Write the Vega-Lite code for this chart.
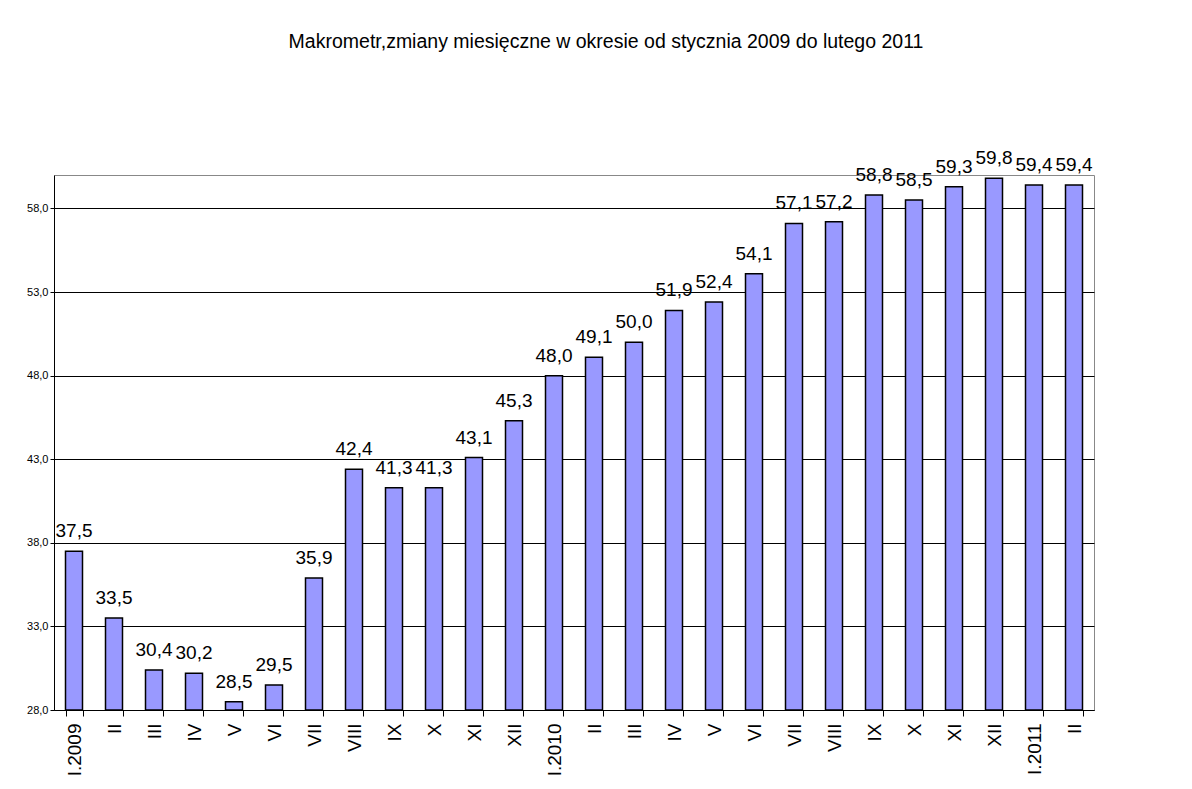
{
  "$schema": "https://vega.github.io/schema/vega-lite/v6.json",
  "width": 1040,
  "height": 535,
  "autosize": "none",
  "padding": {"left": 54, "top": 175, "right": 98, "bottom": 79},
  "background": "white",
  "title": {
    "text": "Makrometr,zmiany miesięczne w okresie od stycznia 2009 do lutego 2011",
    "anchor": "middle",
    "font": "Liberation Sans",
    "fontSize": 19.5,
    "fontWeight": "normal",
    "color": "black",
    "offset": 97,
    "dx": 32
  },
  "data": {
    "values": [
      {"month": "I.2009", "value": 37.5},
      {"month": "II#2009", "value": 33.5},
      {"month": "III#2009", "value": 30.4},
      {"month": "IV#2009", "value": 30.2},
      {"month": "V#2009", "value": 28.5},
      {"month": "VI#2009", "value": 29.5},
      {"month": "VII#2009", "value": 35.9},
      {"month": "VIII#2009", "value": 42.4},
      {"month": "IX#2009", "value": 41.3},
      {"month": "X#2009", "value": 41.3},
      {"month": "XI#2009", "value": 43.1},
      {"month": "XII#2009", "value": 45.3},
      {"month": "I.2010", "value": 48.0},
      {"month": "II#2010", "value": 49.1},
      {"month": "III#2010", "value": 50.0},
      {"month": "IV#2010", "value": 51.9},
      {"month": "V#2010", "value": 52.4},
      {"month": "VI#2010", "value": 54.1},
      {"month": "VII#2010", "value": 57.1},
      {"month": "VIII#2010", "value": 57.2},
      {"month": "IX#2010", "value": 58.8},
      {"month": "X#2010", "value": 58.5},
      {"month": "XI#2010", "value": 59.3},
      {"month": "XII#2010", "value": 59.8},
      {"month": "I.2011", "value": 59.4},
      {"month": "II#2011", "value": 59.4}
    ]
  },
  "encoding": {
    "x": {
      "field": "month",
      "type": "ordinal",
      "sort": null,
      "scale": {"paddingInner": 0.575, "paddingOuter": 0.2875},
      "axis": {
        "title": null,
        "labelExpr": "datum.value ? split(datum.value, '#')[0] : ''",
        "labelAngle": -90,
        "labelAlign": "right",
        "labelBaseline": "middle",
        "labelFont": "Liberation Sans",
        "labelFontSize": 19,
        "labelColor": "black",
        "labelPadding": 7,
        "tickBand": "extent",
        "tickColor": "black",
        "tickSize": 6,
        "domainColor": "black",
        "labelOverlap": false,
        "zindex": 1
      }
    }
  },
  "layer": [
    {
      "mark": {"type": "bar", "fill": "#9999FF", "stroke": "black", "strokeWidth": 1.5},
      "encoding": {
        "y": {
          "field": "value",
          "type": "quantitative",
          "scale": {"domain": [28, 60], "nice": false, "zero": false},
          "axis": {
            "title": null,
            "values": [28, 33, 38, 43, 48, 53, 58],
            "format": ".1f",
            "grid": true,
            "gridColor": "black",
            "gridWidth": 1,
            "gridOpacity": 1,
            "tickColor": "black",
            "tickSize": 4,
            "labelPadding": 2,
            "labelFont": "Liberation Sans",
            "labelFontSize": 11,
            "labelColor": "black",
            "domainColor": "black"
          }
        },
        "y2": {"datum": 28}
      }
    },
    {
      "mark": {"type": "text", "dy": -14, "baseline": "alphabetic", "font": "Liberation Sans", "fontSize": 19, "color": "black"},
      "encoding": {
        "y": {"field": "value", "type": "quantitative"},
        "text": {"field": "value", "type": "quantitative", "format": ".1f"}
      }
    }
  ],
  "config": {
    "locale": {
      "number": {"decimal": ",", "thousands": " ", "grouping": [3], "currency": ["", " zł"]}
    },
    "view": {"stroke": "#888888", "strokeWidth": 1}
  }
}
